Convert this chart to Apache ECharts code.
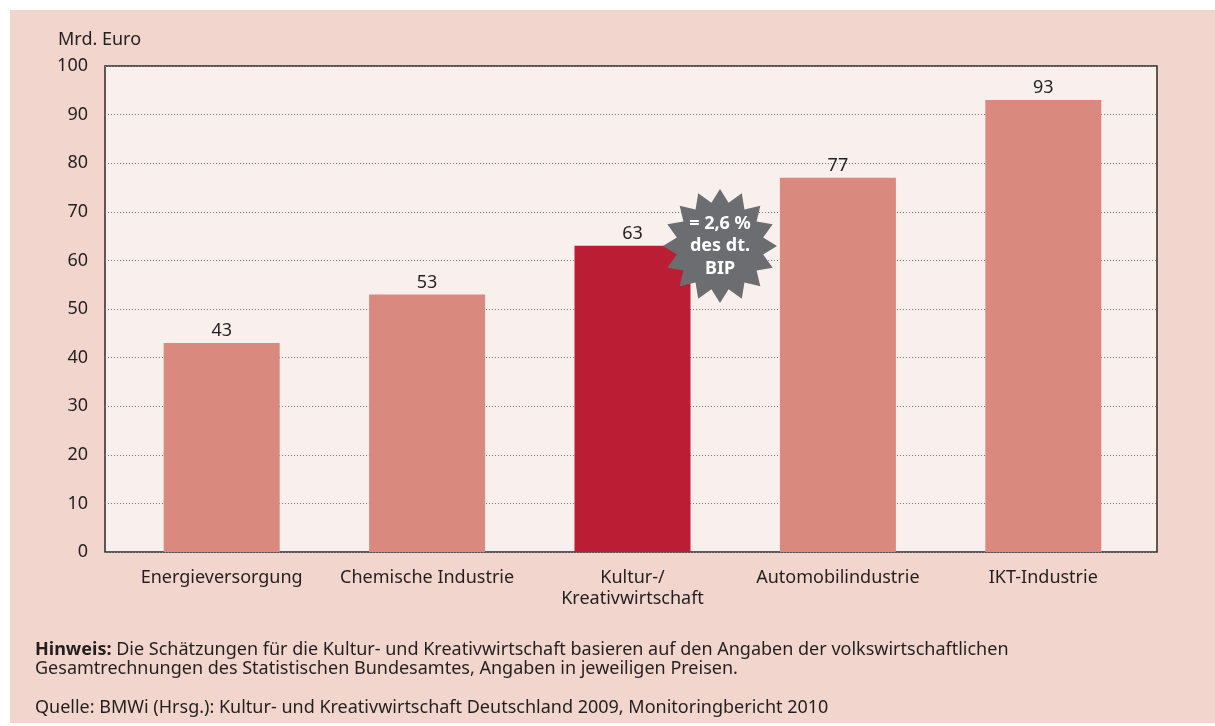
<!DOCTYPE html>
<html>
<head>
<meta charset="utf-8">
<script src="https://cdn.jsdelivr.net/npm/echarts@6/dist/echarts.min.js"></script>
<style>
html,body{margin:0;padding:0;background:#ffffff;}
#bg{position:absolute;left:10px;top:10px;width:1205px;height:713px;background:#F2D6CE;}
#chart{position:absolute;left:0;top:0;width:1215px;height:726px;}
</style>
</head>
<body>
<div id="bg"></div>
<div id="chart"></div>
<script>
const categories = ['Energieversorgung', 'Chemische Industrie', 'Kultur-/\nKreativwirtschaft', 'Automobilindustrie', 'IKT-Industrie'];
const values = [43, 53, 63, 77, 93];
const highlightIndex = 2;
const yTicks = { min: 0, max: 100, interval: 10 };
const unitLabel = 'Mrd. Euro';
const burstLines = '= 2,6 %\ndes dt.\nBIP';
const noteText = 'Die Schätzungen für die Kultur- und Kreativwirtschaft basieren auf den Angaben der volkswirtschaftlichen\nGesamtrechnungen des Statistischen Bundesamtes, Angaben in jeweiligen Preisen.';
const sourceText = 'Quelle: BMWi (Hrsg.): Kultur- und Kreativwirtschaft Deutschland 2009, Monitoringbericht 2010';

const FONT = 'Noto Sans';
const TXT = '#231f20';

function starPoints(cx, cy, rOut, rIn, n) {
  const pts = [];
  for (let i = 0; i < 2 * n; i++) {
    const r = i % 2 === 0 ? rOut : rIn;
    const a = -Math.PI / 2 + i * Math.PI / n;
    pts.push([cx + r * Math.cos(a), cy + r * Math.sin(a)]);
  }
  return pts;
}

const chart = echarts.init(document.getElementById('chart'), null, { renderer: 'canvas' });
chart.setOption({
  backgroundColor: 'transparent',
  animation: false,
  textStyle: { fontFamily: FONT },
  grid: [
    { left: 105, right: 58, top: 66, bottom: 174, show: true, backgroundColor: '#F9F0ED', borderColor: '#2a2a2a', borderWidth: 1.5 },
    { left: 119, width: 1027, top: 66, bottom: 174, show: false }
  ],
  xAxis: [
    { gridIndex: 0, type: 'value', min: 0, max: 1, show: false },
    { gridIndex: 1, type: 'category', data: categories,
      axisLine: { show: false }, axisTick: { show: false },
      axisLabel: { fontSize: 18, color: TXT, margin: 15, lineHeight: 21, fontFamily: FONT, interval: 0 } }
  ],
  yAxis: [
    { gridIndex: 0, type: 'value', min: yTicks.min, max: yTicks.max, interval: yTicks.interval,
      axisLine: { show: false }, axisTick: { show: false },
      axisLabel: { fontSize: 18, color: TXT, margin: 17, fontFamily: FONT },
      splitLine: { show: true, lineStyle: { color: '#7a7a7a', width: 1, type: [1, 2] } } },
    { gridIndex: 1, type: 'value', min: yTicks.min, max: yTicks.max, show: false, splitLine: { show: false } }
  ],
  series: [{
    type: 'bar',
    xAxisIndex: 1, yAxisIndex: 1,
    barWidth: 116,
    data: values.map((v, i) => ({ value: v, itemStyle: { color: i === highlightIndex ? '#BB1E34' : '#DA897E' } })),
    label: { show: true, position: 'top', distance: 3, fontSize: 18, color: TXT, fontFamily: FONT },
    z: 3
  }],
  graphic: [
    { type: 'text', left: 58, top: 31, style: { text: unitLabel, fontSize: 18, fill: TXT, fontFamily: FONT } },
    { type: 'polygon', shape: { points: starPoints(720, 246, 57, 44, 16) }, style: { fill: '#6C6D71' }, z: 100 },
    { type: 'text', x: 720, y: 246, z: 101,
      style: { text: burstLines, fontSize: 18, fontWeight: 'bold', fill: '#ffffff', fontFamily: FONT,
               align: 'center', verticalAlign: 'middle', lineHeight: 22.5 } },
    { type: 'text', left: 35, top: 640, z: 101,
      style: { text: '{b|Hinweis:} ' + noteText, fontSize: 18, fill: TXT, fontFamily: FONT, lineHeight: 19,
               rich: { b: { fontWeight: 'bold', fontSize: 18, fill: TXT, fontFamily: FONT, lineHeight: 19 } } } },
    { type: 'text', left: 35, top: 698, z: 101,
      style: { text: sourceText, fontSize: 18, fill: TXT, fontFamily: FONT, lineHeight: 19 } }
  ]
});
</script>
</body>
</html>
